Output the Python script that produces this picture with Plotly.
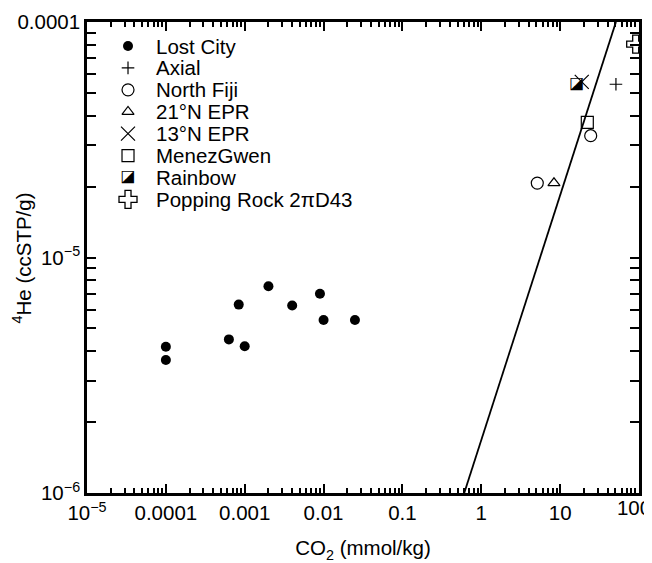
import plotly.graph_objects as go

# ---------------- data ----------------
lost_city_co2 = [0.0001, 0.0001, 0.00063, 0.00084, 0.001, 0.002, 0.004, 0.009, 0.01, 0.025]
lost_city_he = [4.18e-6, 3.67e-6, 4.49e-6, 6.31e-6, 4.2e-6, 7.55e-6, 6.25e-6, 7.01e-6, 5.43e-6, 5.43e-6]
axial_co2 = [51.0]
axial_he = [5.44e-5]
north_fiji_co2 = [5.13, 24.4]
north_fiji_he = [2.07e-5, 3.29e-5]
epr21_co2 = [8.35]
epr21_he = [2.07e-5]
epr13_co2 = [18.8]
epr13_he = [5.57e-5]
menez_co2 = [22.1]
menez_he = [3.75e-5]
rainbow_co2 = [16.3]
rainbow_he = [5.43e-5]
popping_co2 = [90.8]
popping_he = [8.06e-5]
line_co2 = [0.608, 51.0]
line_he = [1e-6, 1e-4]

x_tickvals = [1e-5, 1e-4, 1e-3, 1e-2, 1e-1, 1, 10, 100]
x_ticktext = ["10<sup>\u22125</sup>", "0.0001", "0.001", "0.01", "0.1", "1", "10", "100"]
y_tickvals = [1e-6, 1e-5, 1e-4]
y_ticktext = ["10<sup>\u22126</sup>", "10<sup>\u22125</sup>", "0.0001"]

series_names = ["Lost City", "Axial", "North Fiji", "21\u00b0N EPR", "13\u00b0N EPR",
                "MenezGwen", "Rainbow", "Popping Rock 2\u03c0D43"]

# ---------------- styles ----------------
FONT = "Liberation Sans, Arial, Helvetica, sans-serif"
FS = 20.5
BLACK = "black"
styles = [
    dict(symbol="circle", size=10, color=BLACK, line=dict(width=0)),
    dict(symbol="cross-thin-open", size=9, color=BLACK, line=dict(width=1.2, color=BLACK)),
    dict(symbol="circle-open", size=12, color=BLACK, line=dict(width=1.2, color=BLACK)),
    dict(symbol="triangle-up-open", size=10.5, color=BLACK, line=dict(width=1.2, color=BLACK)),
    dict(symbol="x-thin-open", size=14, color=BLACK, line=dict(width=1.2, color=BLACK)),
    dict(symbol="square-open", size=12, color=BLACK, line=dict(width=1.2, color=BLACK)),
    None,  # Rainbow drawn as half-black square glyph
    dict(symbol="cross-open", size=15, color=BLACK, line=dict(width=1.3, color=BLACK)),
]
datasets = [
    (lost_city_co2, lost_city_he), (axial_co2, axial_he), (north_fiji_co2, north_fiji_he),
    (epr21_co2, epr21_he), (epr13_co2, epr13_he), (menez_co2, menez_he),
    (rainbow_co2, rainbow_he), (popping_co2, popping_he),
]
GLYPH = "\u25ea"
glyph_font = dict(family="DejaVu Sans", size=16, color=BLACK)

fig = go.Figure()

# fit line
fig.add_trace(go.Scatter(x=line_co2, y=line_he, mode="lines",
                         line=dict(color=BLACK, width=1.8), showlegend=False, hoverinfo="skip"))
# empty trace binding the helper axis that carries the last (edge) tick label
fig.add_trace(go.Scatter(x=[], y=[], xaxis="x3", yaxis="y", showlegend=False, hoverinfo="skip"))

# legend layout (fractions of the plot area)
LEG_MX, LEG_TX, LEG_Y0, LEG_DY = 0.0743, 0.1214, 0.949, 0.0465

annotations = []
for i, (name, st, (xs, ys)) in enumerate(zip(series_names, styles, datasets)):
    ly = LEG_Y0 - i * LEG_DY
    if st is None:
        fig.add_trace(go.Scatter(x=xs, y=ys, mode="text", text=[GLYPH] * len(xs),
                                 textfont=glyph_font, textposition="middle center",
                                 name=name, showlegend=False))
        fig.add_trace(go.Scatter(x=[LEG_MX], y=[ly], mode="text", text=[GLYPH],
                                 textfont=glyph_font, textposition="middle center",
                                 xaxis="x2", yaxis="y2", showlegend=False, hoverinfo="skip"))
    else:
        fig.add_trace(go.Scatter(x=xs, y=ys, mode="markers", marker=st, name=name, showlegend=False))
        fig.add_trace(go.Scatter(x=[LEG_MX], y=[ly], mode="markers", marker=st,
                                 xaxis="x2", yaxis="y2", showlegend=False, hoverinfo="skip"))
    annotations.append(dict(x=LEG_TX, y=ly, xref="x2", yref="y2", text=name, showarrow=False,
                            xanchor="left", yanchor="middle",
                            font=dict(family=FONT, size=FS, color=BLACK)))

annotations.append(dict(x=-0.1178, y=0.5, xref="paper", yref="paper",
                        text="<sup>4</sup>He (ccSTP/g)", textangle=-90, showarrow=False,
                        xanchor="center", yanchor="middle",
                        font=dict(family=FONT, size=FS, color=BLACK)))

x_minor = [m * 10.0 ** e for e in range(-5, 2) for m in range(2, 10)]
y_minor = [m * 10.0 ** e for e in range(-6, -4) for m in range(2, 10)]

axis_common = dict(showgrid=False, zeroline=False, showline=True, linewidth=2.5, linecolor=BLACK,
                   ticks="inside", ticklen=9, tickwidth=2, tickcolor=BLACK, mirror="allticks",
                   automargin=False, ticklabeloverflow="allow",
                   tickfont=dict(family=FONT, size=FS, color=BLACK))

# main x axis labels every decade but the last; the last one sits on a helper axis,
# nudged left so it stays inside the window as in the reference
main_text = x_ticktext[:-1] + [""]

fig.update_layout(
    width=644, height=555,
    margin=dict(l=79, r=13, t=14, b=70),
    plot_bgcolor="white", paper_bgcolor="white",
    showlegend=False,
    font=dict(family=FONT, size=FS, color=BLACK),
    xaxis=dict(type="log", range=[-5, 2], tickmode="array", tickvals=x_tickvals, ticktext=main_text,
               minor=dict(tickmode="array", tickvals=x_minor, ticks="inside", ticklen=5,
                          tickwidth=1.5, tickcolor=BLACK),
               title=dict(text="CO<sub>2</sub> (mmol/kg)", font=dict(family=FONT, size=FS, color=BLACK),
                          standoff=18),
               **axis_common),
    xaxis3=dict(type="log", range=[-5, 2], overlaying="x", anchor="y", side="bottom",
                tickmode="array", tickvals=x_tickvals[-1:], ticktext=x_ticktext[-1:],
                ticks="", ticklen=9, showline=False, showgrid=False, zeroline=False,
                ticklabelshift=-5, ticklabeloverflow="allow", automargin=False, fixedrange=True,
                tickfont=dict(family=FONT, size=FS, color=BLACK)),
    yaxis=dict(type="log", range=[-6, -4], tickmode="array", tickvals=y_tickvals, ticktext=y_ticktext,
               minor=dict(tickmode="array", tickvals=y_minor, ticks="inside", ticklen=5,
                          tickwidth=1.5, tickcolor=BLACK),
               **axis_common),
    xaxis2=dict(overlaying="x", range=[0, 1], visible=False, fixedrange=True),
    yaxis2=dict(overlaying="y", range=[0, 1], visible=False, fixedrange=True),
    annotations=annotations,
)

fig.write_html("out.html")
